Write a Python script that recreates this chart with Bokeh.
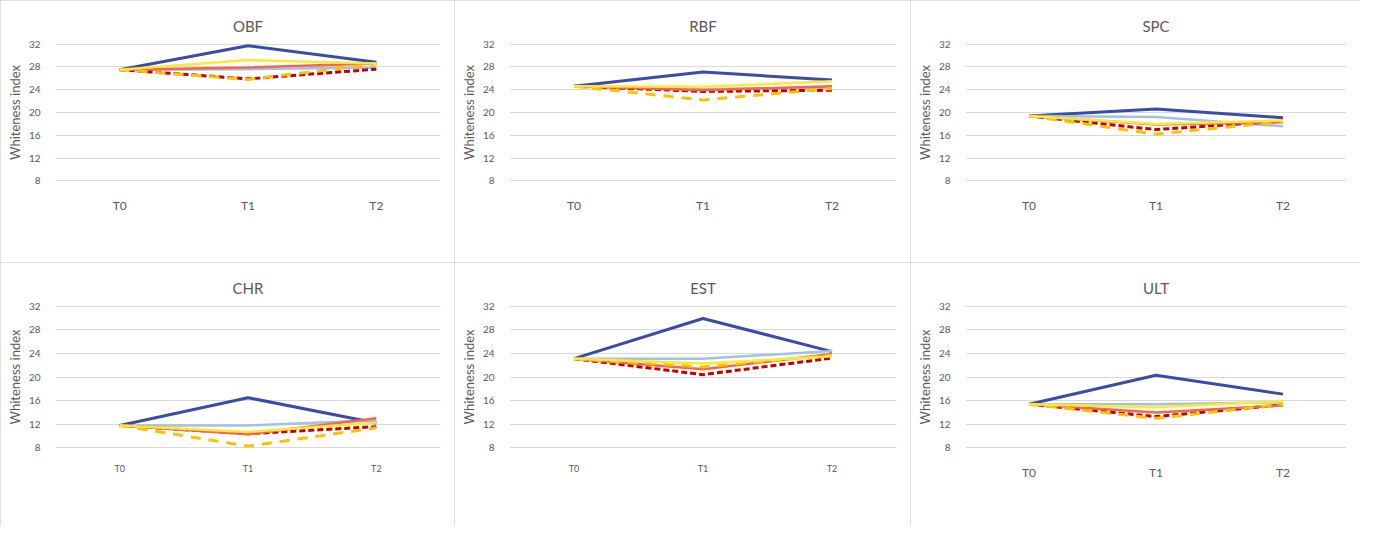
from bokeh.plotting import figure
from bokeh.models import Legend, LegendItem, FixedTicker, FactorRange, Range1d
from bokeh.layouts import column, row
from bokeh.embed import file_html
from bokeh.resources import INLINE

# ---------------- data ----------------
times = ["T0", "T1", "T2"]
series = ["Bri. blue", "Control", "Carmoisine", "Ponceau 4R", "Sunset Yel", "Tartrazin"]
panels = ["OBF", "RBF", "SPC", "CHR", "EST", "ULT"]
y_ticks = [8, 12, 16, 20, 24, 28, 32]

# rows follow the order of `series`
OBF = [[27.5, 31.7, 28.8],
       [27.5, 27.6, 27.9],
       [27.5, 25.9, 27.6],
       [27.5, 27.9, 28.6],
       [27.5, 25.8, 28.5],
       [27.5, 29.2, 28.6]]
RBF = [[24.6, 27.1, 25.7],
       [24.6, 24.1, 24.4],
       [24.6, 23.7, 23.9],
       [24.6, 23.9, 24.6],
       [24.6, 22.2, 24.2],
       [24.6, 24.5, 25.5]]
SPC = [[19.4, 20.6, 19.1],
       [19.4, 19.2, 17.6],
       [19.4, 17.0, 18.5],
       [19.4, 17.9, 18.3],
       [19.4, 16.2, 18.4],
       [19.4, 18.0, 18.6]]
CHR = [[11.8, 16.5, 12.2],
       [11.8, 11.8, 12.7],
       [11.8, 10.4, 11.6],
       [11.8, 10.3, 13.0],
       [11.8, 8.3, 11.4],
       [11.8, 10.7, 12.3]]
EST = [[23.1, 29.9, 24.3],
       [23.1, 23.1, 24.4],
       [23.1, 20.4, 23.2],
       [23.1, 21.3, 23.9],
       [23.1, 21.7, 23.7],
       [23.1, 22.3, 23.5]]
ULT = [[15.4, 20.3, 17.1],
       [15.4, 15.4, 15.7],
       [15.4, 13.3, 15.3],
       [15.4, 14.0, 15.2],
       [15.4, 13.0, 15.4],
       [15.4, 14.9, 15.9]]
panel_values = [OBF, RBF, SPC, CHR, EST, ULT]

# ---------------- styles ----------------
colors = ["#3C4BA6", "#9DC3E6", "#C00000", "#F4664B", "#FFC000", "#FFE83A"]
dashes = [None, None, "6 3", None, "10 8", None]
widths = [3, 2.5, 3, 2.5, 3, 2.5]
FONT = "Lato"
TXT = "#595959"

panel_w = [454, 456, 450, 454, 456, 450]
panel_h = [262, 262, 262, 264, 264, 264]
border_bottom = [81, 81, 81, 73, 73, 78]
xlab_size = ["12px", "12px", "12px", "9px", "9px", "12px"]
legend_dy = [-83, -83, -83, -76, -76, -83]


def make_panel(i):
    name = panels[i]
    vals = panel_values[i]
    p = figure(width=panel_w[i], height=panel_h[i],
               x_range=FactorRange(*times), y_range=Range1d(7.9, 32.1),
               output_backend="svg", toolbar_location=None, title=name,
               min_border_left=55, min_border_right=14, min_border_top=43,
               min_border_bottom=border_bottom[i])
    p.styles = {"outline": "1px solid #d6d6d6", "outline-offset": "-1px"}
    p.outline_line_color = None
    p.title.align = "center"
    p.title.text_font = FONT
    p.title.text_font_size = "15px"
    p.title.text_font_style = "normal"
    p.title.text_color = TXT
    p.title.standoff = 18

    p.xgrid.grid_line_color = None
    p.ygrid.grid_line_color = "#D9D9D9"
    p.yaxis.ticker = FixedTicker(ticks=y_ticks)
    for ax in (p.xaxis[0], p.yaxis[0]):
        ax.axis_line_color = None
        ax.major_tick_line_color = None
        ax.minor_tick_line_color = None
        ax.major_label_text_font = FONT
        ax.major_label_text_color = TXT
    p.yaxis.major_label_text_font_size = "10px"
    p.yaxis.major_label_standoff = 9
    p.yaxis.axis_label = "Whiteness index"
    p.yaxis.axis_label_text_font = FONT
    p.yaxis.axis_label_text_font_size = "13px"
    p.yaxis.axis_label_text_font_style = "normal"
    p.yaxis.axis_label_text_color = TXT
    p.yaxis.axis_label_standoff = 3
    p.xaxis.major_label_text_font_size = xlab_size[i]
    p.xaxis.major_label_standoff = 10 if xlab_size[i] == "12px" else 8

    items = []
    for k, s in enumerate(series):
        if dashes[k] is None:
            r = p.line(times, vals[k], line_color=colors[k], line_width=widths[k])
        else:
            r = p.line(times, vals[k], line_color=colors[k], line_width=widths[k],
                       line_dash=dashes[k])
        items.append(LegendItem(label=s, renderers=[r]))
    leg = Legend(items=items, orientation="horizontal", ncols=3,
                 location=(18, legend_dy[i]), margin=0, padding=6, spacing=5,
                 glyph_width=30, glyph_height=18, label_height=18,
                 label_standoff=4, label_text_font=FONT,
                 label_text_font_size="12px", label_text_color=TXT,
                 border_line_color=None, background_fill_alpha=0)
    p.add_layout(leg)
    return p


figs = [make_panel(i) for i in range(6)]
layout = column(row(*figs[0:3]), row(*figs[3:6]))

open("out.html", "w").write(file_html(layout, INLINE))
